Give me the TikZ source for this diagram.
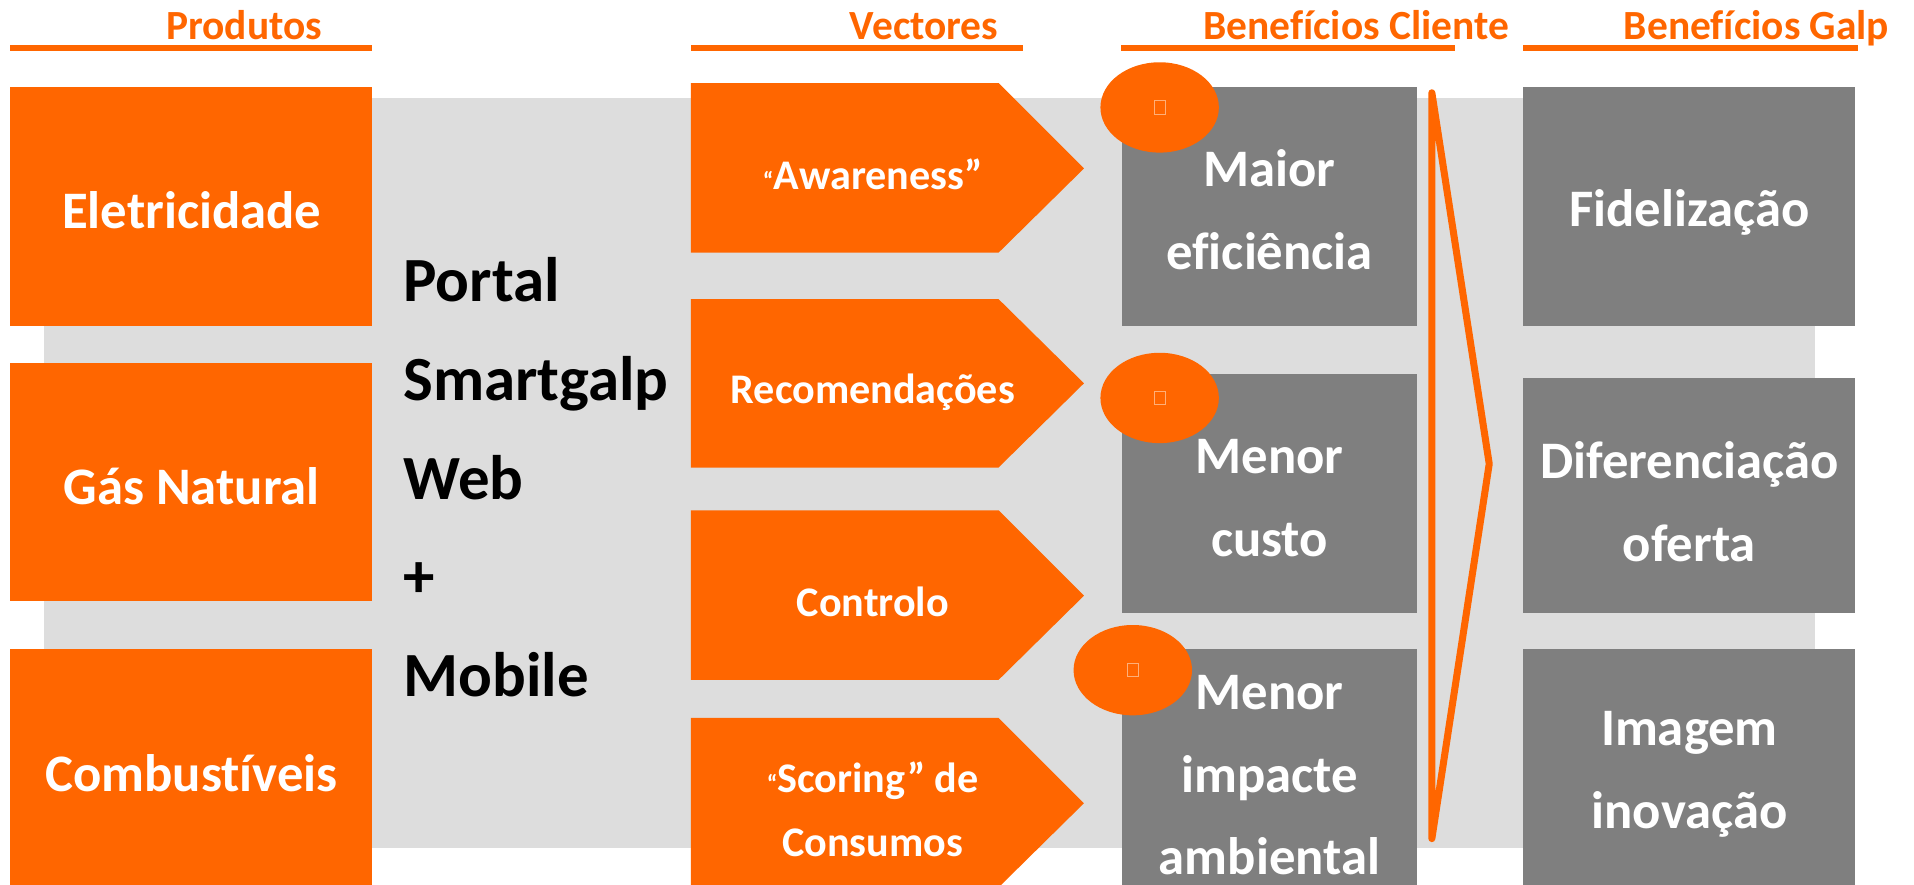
\documentclass[tikz,border=0pt]{standalone}
\usepackage{fontspec}
\setmainfont{Carlito}[Ligatures={NoCommon}]
\usetikzlibrary{shapes.geometric}
\definecolor{gorange}{RGB}{255,102,0}
\definecolor{bggray}{RGB}{221,221,221}
\definecolor{boxgray}{RGB}{127,127,127}
\definecolor{glyphc}{RGB}{255,175,120}
\begin{document}
\begin{tikzpicture}[x=0.012207cm, y=-0.012207cm,
  hdr/.style={text=gorange, font=\fontsize{11.8}{14}\selectfont\bfseries, inner sep=0, anchor=base},
  wtxt/.style={text=white, font=\fontsize{15}{23.6}\selectfont\bfseries, align=center, inner sep=0},
  vtxt/.style={text=white, font=\fontsize{12}{18.4}\selectfont\bfseries, align=center, inner sep=0},
  ptxt/.style={text=black, font=\fontsize{17.9}{28.1}\selectfont\bfseries, align=left, inner sep=0},
  badge/.style={ellipse, fill=gorange, minimum width=33.7pt, minimum height=25.7pt, inner sep=0},
  tofu/.style={draw=glyphc, line width=0.3pt, minimum width=3.1pt, minimum height=3.8pt, inner sep=0},
  oline/.style={fill=gorange},
  obox/.style={fill=gorange},
  gbox/.style={fill=boxgray},
  arrowpent/.style={fill=gorange},
  brace/.style={draw=gorange, line width=2pt, line join=round, line cap=round},
]
\useasboundingbox (0,0) rectangle (1568,725);
\fill[white] (0,0) rectangle (1568,725);
\fill[bggray] (36,80) rectangle (1487,695);

% headers
\node[hdr] (hprod) at (200,32) {Produtos};
\node[hdr] (hvect) at (757,32) {Vectores};
\node[hdr] (hcli) at (1111,32) {Benefícios Cliente};
\node[hdr] (hgalp) at (1439,32) {Benefícios Galp};
\fill[oline] (8,37) rectangle (305,42);
\fill[oline] (566,37) rectangle (838,42);
\fill[oline] (918,37) rectangle (1192,42);
\fill[oline] (1248,37) rectangle (1522,42);

% produtos
\fill[obox] (8,71) rectangle (305,267);
\fill[obox] (8,297) rectangle (305,492);
\fill[obox] (8,532) rectangle (305,725);
\node[wtxt] (ele) at (157,172) {Eletricidade};
\node[wtxt] (gas) at (157,398) {Gás Natural};
\node[wtxt] (comb) at (157,633) {Combustíveis};

% portal
\node[ptxt, anchor=west] (portal) at (330,391) {Portal\\Smartgalp\\Web\\+\\Mobile};

% vectores
\fill[arrowpent] (566,68) -- (818,68) -- (888,138) -- (818,207) -- (566,207) -- cycle;
\fill[arrowpent] (566,245) -- (818,245) -- (888,314) -- (818,383) -- (566,383) -- cycle;
\fill[arrowpent] (566,418) -- (818,418) -- (888,488) -- (818,557) -- (566,557) -- cycle;
\fill[arrowpent] (566,588) -- (818,588) -- (888,658) -- (818,727) -- (566,727) -- cycle;
\node[vtxt] (awa) at (715,143) {{\fontsize{7}{7}\selectfont “}Awareness”};
\node[vtxt] (rec) at (715,321) {Recomendações};
\node[vtxt] (con) at (715,493) {Controlo};
\node[vtxt] (sco) at (715,663) {{\fontsize{7}{7}\selectfont “}Scoring” de\\Consumos};

% beneficios cliente
\fill[gbox] (919,71) rectangle (1161,267);
\fill[gbox] (919,306) rectangle (1161,502);
\fill[gbox] (919,532) rectangle (1161,725);
\node[badge] (b1) at (950,88) {};
\node[badge] (b2) at (950,326) {};
\node[badge] (b3) at (928,549) {};
\node[tofu] (t1) at (b1) {};
\node[tofu] (t2) at (b2) {};
\node[tofu] (t3) at (b3) {};
\node[wtxt] (mef) at (1040,172) {Maior\\eficiência};
\node[wtxt] (mcu) at (1040,408) {Menor\\custo};
\node[wtxt] (mia) at (1040,635) {Menor\\impacte\\ambiental};

% chevron
\draw[brace] (1173,76) -- (1220,380) -- (1173,687) -- cycle;

% beneficios galp
\fill[gbox] (1248,71) rectangle (1520,267);
\fill[gbox] (1248,310) rectangle (1520,502);
\fill[gbox] (1248,532) rectangle (1520,725);
\node[wtxt] (fid) at (1384,174) {Fidelização};
\node[wtxt] (dif) at (1384,411) {Diferenciação\\oferta};
\node[wtxt] (ima) at (1384,634) {Imagem\\inovação};
\end{tikzpicture}
\end{document}
